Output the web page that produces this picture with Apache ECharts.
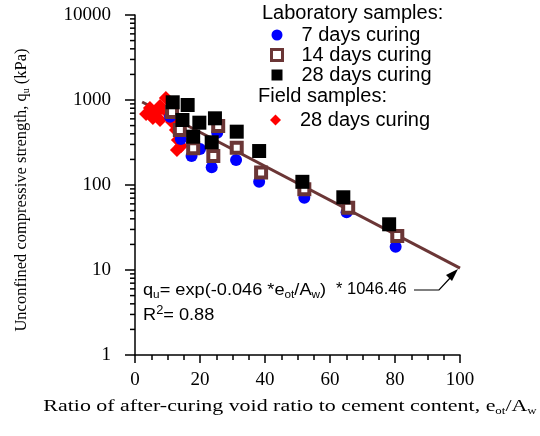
<!DOCTYPE html>
<html>
<head>
<meta charset="utf-8">
<script src="https://cdn.jsdelivr.net/npm/echarts@6/dist/echarts.min.js"></script>
<style>html,body{margin:0;padding:0;background:#fff}#c{width:540px;height:436px}</style>
</head>
<body>
<div id="c"></div>
<script>
// ---- data ----
var xTicks = [0, 20, 40, 60, 80, 100];
var yTicks = [1, 10, 100, 1000, 10000];
var minorMultipliers = [2, 3, 4, 5, 6, 7, 8, 9];
var decades = [1, 10, 100, 1000];

var lab7X = [10.8, 14.1, 17.4, 20.0, 23.6, 25.3, 31.1, 38.2, 52.1, 65.1, 80.2];
var lab7Y = [636, 348, 219, 265, 162, 412, 197, 109, 71, 47.7, 18.8];

var lab14X = [11.4, 13.8, 17.9, 24.1, 25.6, 31.3, 38.8, 52.1, 65.6, 80.7];
var lab14Y = [722, 444, 270, 219, 494, 275, 140, 89, 54, 25.1];

var lab28X = [11.6, 16.2, 14.6, 19.8, 24.6, 17.9, 23.6, 31.3, 38.2, 51.5, 64.1, 78.2];
var lab28Y = [940, 873, 582, 541, 609, 370, 318, 424, 251, 109, 71.7, 34.5];

var field28X = [9.5, 7.7, 4.6, 3.4, 5.5, 7.7, 9.8, 6.8, 11.4, 12.6, 13.2, 12.9, 14.2];
var field28Y = [1056, 850, 805, 684, 614, 582, 722, 722, 551, 444, 338, 258, 288];

var fitX = [2.2, 100];
var fitY = [947, 10.5];

function pairs(xs, ys) { return xs.map(function (x, i) { return [x, ys[i]]; }); }

var minorTicks = [];
decades.forEach(function (d) { minorMultipliers.forEach(function (m) { minorTicks.push([0, m * d]); }); });

var BROWN = '#6b3636';
var SERIF = '"Liberation Serif", "Times New Roman", serif';
var SANS = '"Liberation Sans", Arial, sans-serif';

var chart = echarts.init(document.getElementById('c'));
chart.setOption({
  animation: false,
  backgroundColor: '#fff',
  grid: { left: 135, right: 80, top: 15, bottom: 81, containLabel: false },
  xAxis: {
    type: 'value', min: 0, max: 100, interval: 20,
    axisLine: { show: true, lineStyle: { color: '#000', width: 1.5 } },
    axisTick: { show: true, length: 8, lineStyle: { color: '#000', width: 1.5 } },
    minorTick: { show: true, splitNumber: 4, length: 5, lineStyle: { color: '#000', width: 1.5 } },
    splitLine: { show: false },
    axisLabel: { color: '#000', fontFamily: SERIF, fontSize: 19, margin: 16 }
  },
  yAxis: {
    type: 'log', logBase: 10, min: 1, max: 10000, splitNumber: 4,
    axisLine: { show: true, lineStyle: { color: '#000', width: 1.5 } },
    axisTick: { show: true, length: 10, lineStyle: { color: '#000', width: 1.5 } },
    splitLine: { show: false },
    axisLabel: {
      color: '#000', fontFamily: SERIF, fontSize: 19, margin: 24,
      formatter: function (v) { return String(Math.round(v)); }
    }
  },
  legend: [
    {
      orient: 'vertical', left: 265, top: 20, itemGap: 0,
      itemWidth: 11, itemHeight: 11,
      selectedMode: false,
      textStyle: { color: '#000', fontFamily: SANS, fontSize: 20, padding: [0, 0, 0, 14] },
      data: [
        { name: '7 days curing', icon: 'circle' },
        { name: '14 days curing', icon: 'rect', itemStyle: { borderWidth: 3 } },
        { name: '28 days curing', icon: 'rect' }
      ]
    },
    {
      orient: 'vertical', left: 265, top: 105, itemGap: 0,
      itemWidth: 11, itemHeight: 11,
      selectedMode: false,
      formatter: function () { return '28 days curing'; },
      textStyle: { color: '#000', fontFamily: SANS, fontSize: 20, padding: [0, 0, 0, 14] },
      data: [{ name: 'Field 28 days curing', icon: 'diamond' }]
    }
  ],
  series: [
    {
      name: 'fit', type: 'line', data: pairs(fitX, fitY), symbol: 'none',
      lineStyle: { color: BROWN, width: 3 }, z: 1, silent: true
    },
    {
      name: 'minor ticks', type: 'custom', data: minorTicks, clip: false, silent: true, z: 5,
      renderItem: function (params, api) {
        var p = api.coord([api.value(0), api.value(1)]);
        return { type: 'line', shape: { x1: p[0] - 5, y1: p[1], x2: p[0], y2: p[1] },
                 style: { stroke: '#000', lineWidth: 1.5 } };
      }
    },
    {
      name: 'Field 28 days curing', type: 'scatter', data: pairs(field28X, field28Y),
      symbol: 'diamond', symbolSize: [14, 14], itemStyle: { color: '#ff0000', opacity: 1 }, z: 2
    },
    {
      name: '7 days curing', type: 'scatter', data: pairs(lab7X, lab7Y),
      symbol: 'circle', symbolSize: 12, itemStyle: { color: '#0000ff', opacity: 1 }, z: 3
    },
    {
      name: '14 days curing', type: 'scatter', data: pairs(lab14X, lab14Y),
      symbol: 'rect', symbolSize: 10,
      itemStyle: { color: '#ffffff', borderColor: BROWN, borderWidth: 4, opacity: 1 }, z: 4
    },
    {
      name: '28 days curing', type: 'scatter', data: pairs(lab28X, lab28Y),
      symbol: 'rect', symbolSize: 14, itemStyle: { color: '#000000', opacity: 1 }, z: 5
    }
  ],
  graphic: [
    { type: 'text', left: 262, top: 3, style: { text: 'Laboratory samples:', fill: '#000', font: '20px ' + SANS } },
    { type: 'text', left: 258, top: 86, style: { text: 'Field samples:', fill: '#000', font: '20px ' + SANS } },
    {
      type: 'text', x: 143, y: 281, scaleX: 1.07,
      style: {
        text: 'q{s|u}= exp(-0.046 *e{s|ot}/A{s|w})',
        fill: '#000', font: '17px ' + SANS,
        rich: { s: { fontSize: 11, verticalAlign: 'bottom', padding: [8, 0, 0, 0], fontFamily: SANS } }
      }
    },
    {
      type: 'text', x: 336, y: 281,
      style: { text: '* 1046.46', fill: '#000', font: '16.5px ' + SANS }
    },
    {
      type: 'text', x: 143, y: 305, scaleX: 1.07,
      style: {
        text: 'R{p|2}= 0.88', fill: '#000', font: '17px ' + SANS,
        rich: { p: { fontSize: 12, verticalAlign: 'top', padding: [0, 0, 8, 0], fontFamily: SANS } }
      }
    },
    {
      type: 'polyline', shape: { points: [[414, 290], [439, 290], [451, 277]] },
      style: { stroke: '#000', lineWidth: 1.2, fill: null }
    },
    {
      type: 'polygon', shape: { points: [[458, 269], [446, 275], [452, 281]] },
      style: { fill: '#000' }
    },
    {
      type: 'text', x: 22, y: 190, rotation: Math.PI / 2,
      style: {
        text: 'Unconfined compressive strength, q{s|u} (kPa)', fill: '#000',
        font: '16.5px ' + SERIF, align: 'center', verticalAlign: 'middle',
        rich: { s: { fontSize: 10, verticalAlign: 'bottom', padding: [8, 0, 0, 0], fontFamily: SERIF } }
      }
    },
    {
      type: 'text', x: 290, y: 407, scaleX: 1.29,
      style: {
        text: 'Ratio of after-curing void ratio to cement content, e{s|ot}/A{s|w}', fill: '#000',
        font: '17px ' + SERIF, align: 'center', verticalAlign: 'middle',
        rich: { s: { fontSize: 10, verticalAlign: 'bottom', padding: [8, 0, 0, 0], fontFamily: SERIF } }
      }
    }
  ]
});
</script>
</body>
</html>
